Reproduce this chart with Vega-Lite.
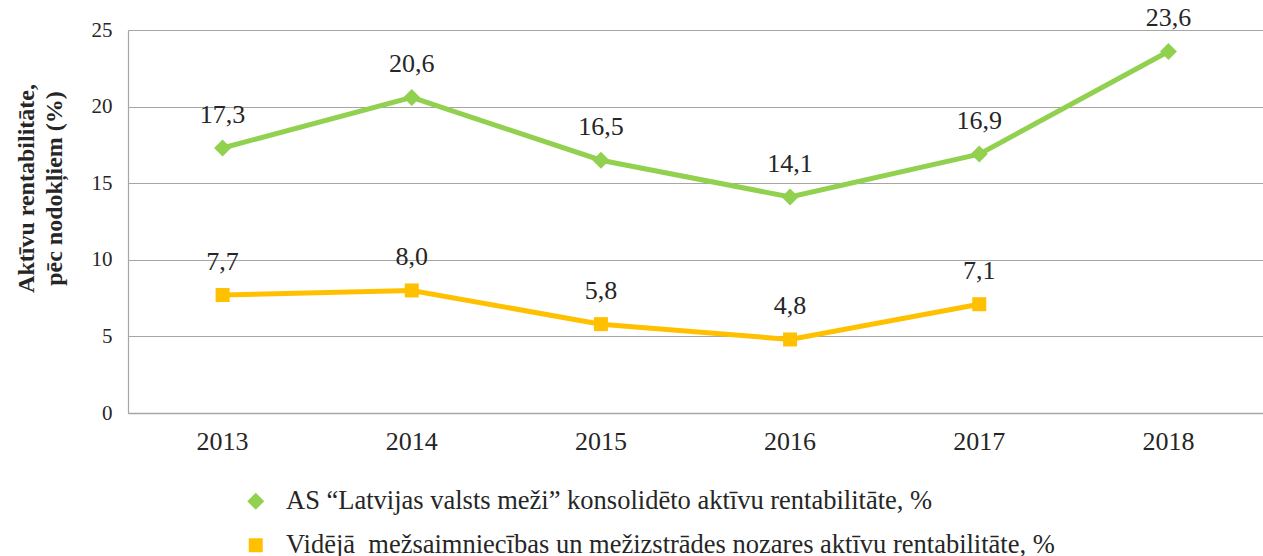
{
  "$schema": "https://vega.github.io/schema/vega-lite/v6.json",
  "width": 1135,
  "height": 383,
  "autosize": {"type": "none"},
  "padding": {"left": 128, "top": 30, "right": 0, "bottom": 143},
  "background": "white",
  "config": {
    "view": {"stroke": null},
    "font": "Liberation Serif, Times New Roman, serif",
    "locale": {"number": {"decimal": ",", "thousands": " ", "grouping": [3], "currency": ["", " €"]}}
  },
  "data": {
    "values": [
      {"year": "2013", "series": "AS “Latvijas valsts meži” konsolidēto aktīvu rentabilitāte, %", "value": 17.3},
      {"year": "2014", "series": "AS “Latvijas valsts meži” konsolidēto aktīvu rentabilitāte, %", "value": 20.6},
      {"year": "2015", "series": "AS “Latvijas valsts meži” konsolidēto aktīvu rentabilitāte, %", "value": 16.5},
      {"year": "2016", "series": "AS “Latvijas valsts meži” konsolidēto aktīvu rentabilitāte, %", "value": 14.1},
      {"year": "2017", "series": "AS “Latvijas valsts meži” konsolidēto aktīvu rentabilitāte, %", "value": 16.9},
      {"year": "2018", "series": "AS “Latvijas valsts meži” konsolidēto aktīvu rentabilitāte, %", "value": 23.6},
      {"year": "2013", "series": "Vidējā  mežsaimniecības un mežizstrādes nozares aktīvu rentabilitāte, %", "value": 7.7},
      {"year": "2014", "series": "Vidējā  mežsaimniecības un mežizstrādes nozares aktīvu rentabilitāte, %", "value": 8.0},
      {"year": "2015", "series": "Vidējā  mežsaimniecības un mežizstrādes nozares aktīvu rentabilitāte, %", "value": 5.8},
      {"year": "2016", "series": "Vidējā  mežsaimniecības un mežizstrādes nozares aktīvu rentabilitāte, %", "value": 4.8},
      {"year": "2017", "series": "Vidējā  mežsaimniecības un mežizstrādes nozares aktīvu rentabilitāte, %", "value": 7.1}
    ]
  },
  "encoding": {
    "x": {
      "field": "year", "type": "ordinal",
      "scale": {"type": "band", "paddingInner": 0, "paddingOuter": 0},
      "axis": {
        "title": null, "labelAngle": 0, "labelFontSize": 26, "labelColor": "#262626",
        "labelFont": "Liberation Serif, Times New Roman, serif",
        "labelPadding": 15, "ticks": false, "grid": false,
        "domainColor": "#a6a6a6", "domainWidth": 1.5
      }
    },
    "y": {
      "field": "value", "type": "quantitative",
      "scale": {"domain": [0, 25], "nice": false},
      "axis": {
        "values": [0, 5, 10, 15, 20, 25],
        "labelFontSize": 21, "labelColor": "#262626", "labelPadding": 16,
        "labelFont": "Liberation Serif, Times New Roman, serif",
        "ticks": false, "gridColor": "#a6a6a6", "gridWidth": 1.2,
        "domainColor": "#a6a6a6", "domainWidth": 1.2,
        "title": ["Aktīvu rentabilitāte,", "pēc nodokļiem (%)"],
        "titleFont": "Liberation Serif, Times New Roman, serif",
        "titleFontSize": 24, "titleFontWeight": "bold", "titleColor": "#262626",
        "titleLineHeight": 28, "titleBaseline": "middle", "titleAngle": -90,
        "titleX": -102, "titleY": 158, "titleAlign": "center"
      }
    }
  },
  "layer": [
    {
      "mark": {"type": "line", "strokeWidth": 5},
      "encoding": {
        "stroke": {
          "field": "series", "type": "nominal",
          "scale": {
            "domain": ["AS “Latvijas valsts meži” konsolidēto aktīvu rentabilitāte, %", "Vidējā  mežsaimniecības un mežizstrādes nozares aktīvu rentabilitāte, %"],
            "range": ["#92D050", "#FFC000"]
          }
        }
      }
    },
    {
      "mark": {"type": "point", "filled": true, "opacity": 1, "strokeWidth": 0},
      "encoding": {
        "color": {
          "field": "series", "type": "nominal",
          "scale": {
            "domain": ["AS “Latvijas valsts meži” konsolidēto aktīvu rentabilitāte, %", "Vidējā  mežsaimniecības un mežizstrādes nozares aktīvu rentabilitāte, %"],
            "range": ["#92D050", "#FFC000"]
          },
          "legend": {
            "title": null, "orient": "none", "legendX": 114.5, "legendY": 458,
            "direction": "vertical", "padding": 0, "rowPadding": 17,
            "labelFontSize": 26.5, "labelColor": "#262626", "labelFont": "Liberation Serif, Times New Roman, serif",
            "labelExpr": "replace(datum.label, 'Vidējā  ', 'Vidējā\u00a0 ')",
            "labelLimit": 0, "labelOffset": 17, "symbolSize": 256, "symbolStrokeWidth": 0
          }
        },
        "shape": {
          "field": "series", "type": "nominal",
          "scale": {
            "domain": ["AS “Latvijas valsts meži” konsolidēto aktīvu rentabilitāte, %", "Vidējā  mežsaimniecības un mežizstrādes nozares aktīvu rentabilitāte, %"],
            "range": ["diamond", "square"]
          }
        },
        "size": {
          "field": "series", "type": "nominal",
          "scale": {
            "domain": ["AS “Latvijas valsts meži” konsolidēto aktīvu rentabilitāte, %", "Vidējā  mežsaimniecības un mežizstrādes nozares aktīvu rentabilitāte, %"],
            "range": [289, 196]
          }
        }
      }
    },
    {
      "mark": {"type": "text", "fontSize": 26, "dy": -25, "baseline": "alphabetic", "color": "#262626", "font": "Liberation Serif, Times New Roman, serif"},
      "encoding": {
        "text": {"field": "value", "type": "quantitative", "format": ".1f"}
      }
    }
  ]
}
